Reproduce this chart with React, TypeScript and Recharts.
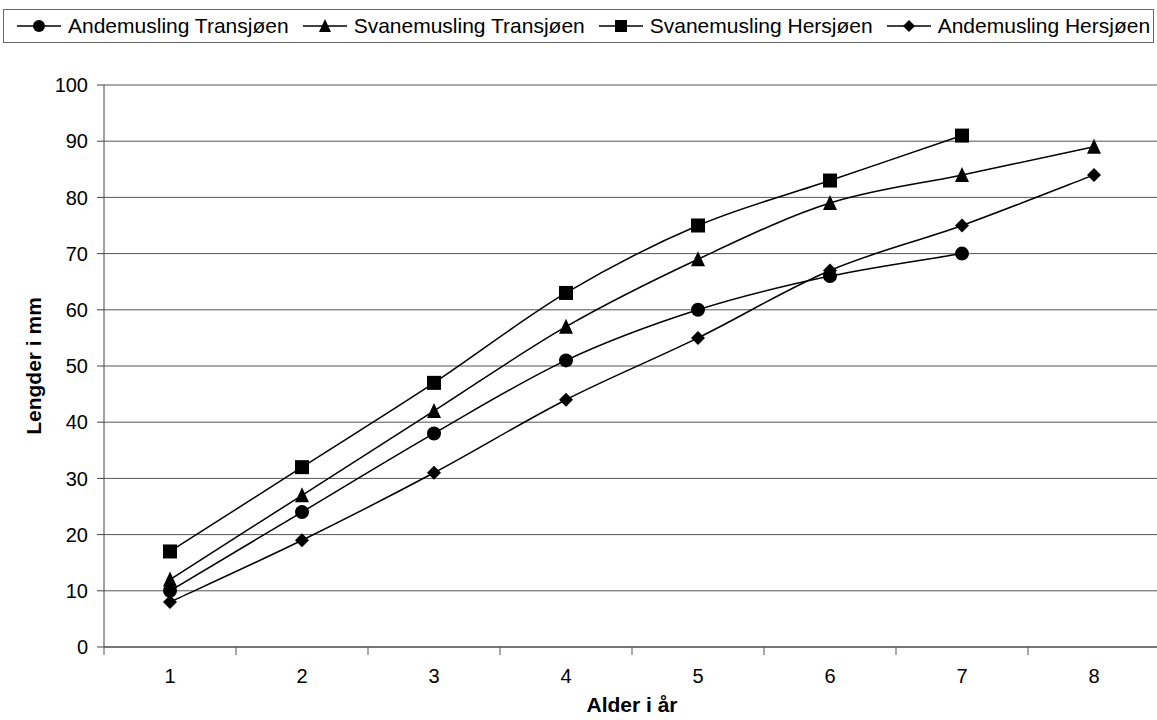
import React from "react";
import {
  LineChart,
  Line,
  XAxis,
  YAxis,
  CartesianGrid,
  Legend,
  Label,
} from "recharts";

const ages = [1, 2, 3, 4, 5, 6, 7, 8];
const andeTransjoen = [10, 24, 38, 51, 60, 66, 70];
const svaneTransjoen = [12, 27, 42, 57, 69, 79, 84, 89];
const svaneHersjoen = [17, 32, 47, 63, 75, 83, 91];
const andeHersjoen = [8, 19, 31, 44, 55, 67, 75, 84];
const yTicks = [0, 10, 20, 30, 40, 50, 60, 70, 80, 90, 100];

const series = [
  { key: "andeT", name: "Andemusling Transjøen", values: andeTransjoen, shape: "circle" },
  { key: "svaneT", name: "Svanemusling Transjøen", values: svaneTransjoen, shape: "triangle" },
  { key: "svaneH", name: "Svanemusling Hersjøen", values: svaneHersjoen, shape: "square" },
  { key: "andeH", name: "Andemusling Hersjøen", values: andeHersjoen, shape: "diamond" },
];

const data = ages.map((age, i) => {
  const row: Record<string, number | undefined> = { age };
  series.forEach((s) => {
    row[s.key] = s.values[i];
  });
  return row;
});

const FONT = '"Liberation Sans", Arial, sans-serif';
const CHART_W = 1160;
const CHART_H = 720;
const Y_AXIS_W = 104;
const PLOT_W = CHART_W - Y_AXIS_W;
const STEP = PLOT_W / ages.length;

// Excel-style smoothing (Catmull-Rom)
const excelSmooth = (context: any) => {
  let pts: number[][] = [];
  return {
    areaStart() {},
    areaEnd() {},
    lineStart() {
      pts = [];
    },
    point(x: number, y: number) {
      pts.push([+x, +y]);
    },
    lineEnd() {
      if (!pts.length) return;
      context.moveTo(pts[0][0], pts[0][1]);
      for (let i = 0; i < pts.length - 1; i++) {
        const p0 = pts[Math.max(i - 1, 0)];
        const p1 = pts[i];
        const p2 = pts[i + 1];
        const p3 = pts[Math.min(i + 2, pts.length - 1)];
        context.bezierCurveTo(
          p1[0] + (p2[0] - p0[0]) / 6,
          p1[1] + (p2[1] - p0[1]) / 6,
          p2[0] - (p3[0] - p1[0]) / 6,
          p2[1] - (p3[1] - p1[1]) / 6,
          p2[0],
          p2[1]
        );
      }
    },
  };
};

function Marker({ shape, cx, cy, s }: { shape: string; cx: number; cy: number; s: number }) {
  if (cx == null || cy == null) return null;
  const h = s / 2;
  if (shape === "circle") return <circle cx={cx} cy={cy} r={h} fill="#000" />;
  if (shape === "square")
    return <rect x={cx - h} y={cy - h} width={s} height={s} fill="#000" />;
  if (shape === "triangle")
    return (
      <polygon
        points={`${cx},${cy - h - 1} ${cx + h},${cy + h} ${cx - h},${cy + h}`}
        fill="#000"
      />
    );
  return (
    <polygon
      points={`${cx},${cy - h} ${cx + h},${cy} ${cx},${cy + h} ${cx - h},${cy}`}
      fill="#000"
    />
  );
}

function AgeTick({ x, y, payload, index }: any) {
  return (
    <g>
      <line x1={x - STEP / 2} x2={x - STEP / 2} y1={y} y2={y + 8} stroke="#555" />
      {index === ages.length - 1 && (
        <line x1={x + STEP / 2} x2={x + STEP / 2} y1={y} y2={y + 8} stroke="#555" />
      )}
      <text
        x={x}
        y={y + 29}
        textAnchor="middle"
        dominantBaseline="central"
        fill="#000"
        fontSize={20}
        fontFamily={FONT}
      >
        {payload.value}
      </text>
    </g>
  );
}

function LegendBox() {
  return (
    <div
      style={{
        boxSizing: "border-box",
        width: "100%",
        height: "100%",
        border: "1px solid #666",
        display: "flex",
        alignItems: "center",
        paddingLeft: 12,
        fontFamily: FONT,
        fontSize: 21,
        color: "#000",
        whiteSpace: "nowrap",
      }}
    >
      {series.map((s) => (
        <div key={s.key} style={{ display: "flex", alignItems: "center", marginRight: 13 }}>
          <svg width={46} height={20} style={{ marginRight: 6 }}>
            <line x1={1} x2={45} y1={10} y2={10} stroke="#000" strokeWidth={1.5} />
            <Marker shape={s.shape} cx={23} cy={10} s={12} />
          </svg>
          <span>{s.name}</span>
        </div>
      ))}
    </div>
  );
}

export default function App() {
  return (
    <div
      style={{
        position: "absolute",
        left: 0,
        top: 0,
        width: 1157,
        height: CHART_H,
        overflow: "hidden",
        background: "#fff",
      }}
    >
      <LineChart
        width={CHART_W}
        height={CHART_H}
        data={data}
        margin={{ top: 85, right: 0, bottom: 0, left: 0 }}
      >
        <CartesianGrid vertical={false} stroke="#555" strokeWidth={1} />
        <XAxis
          dataKey="age"
          type="number"
          domain={[0.5, 8.5]}
          ticks={ages}
          height={73}
          tickLine={false}
          tickSize={0}
          tickMargin={0}
          axisLine={{ stroke: "#444" }}
          tick={<AgeTick />}
          interval={0}
        >
          <Label
            content={({ viewBox }: any) => (
              <text
                x={viewBox.x + viewBox.width / 2}
                y={viewBox.y + 57}
                textAnchor="middle"
                dominantBaseline="central"
                fontSize={21}
                fontWeight="bold"
                fontFamily={FONT}
                fill="#000"
              >
                Alder i år
              </text>
            )}
          />
        </XAxis>
        <YAxis
          width={Y_AXIS_W}
          domain={[0, 100]}
          ticks={yTicks}
          interval={0}
          tickSize={7}
          tickMargin={9}
          axisLine={{ stroke: "#444" }}
          tickLine={{ stroke: "#444" }}
          tick={{ fill: "#000", fontSize: 20, fontFamily: FONT }}
        >
          <Label
            content={({ viewBox }: any) => {
              const cx = 33;
              const cy = viewBox.y + viewBox.height / 2;
              return (
                <text
                  x={cx}
                  y={cy}
                  transform={`rotate(-90 ${cx} ${cy})`}
                  textAnchor="middle"
                  dominantBaseline="central"
                  fontSize={21}
                  fontWeight="bold"
                  fontFamily={FONT}
                  fill="#000"
                >
                  Lengder i mm
                </text>
              );
            }}
          />
        </YAxis>
        <Legend
          layout="horizontal"
          verticalAlign="middle"
          align="center"
          content={() => <LegendBox />}
          wrapperStyle={{ position: "absolute", top: 9, left: 3, width: 1151, height: 34 }}
        />
        {series.map((s) => (
          <Line
            key={s.key}
            dataKey={s.key}
            name={s.name}
            type={excelSmooth as any}
            stroke="#000"
            strokeWidth={1.5}
            isAnimationActive={false}
            connectNulls={false}
            dot={(p: any) => <Marker key={p.index} shape={s.shape} cx={p.cx} cy={p.cy} s={14} />}
            activeDot={false}
          />
        ))}
      </LineChart>
    </div>
  );
}
